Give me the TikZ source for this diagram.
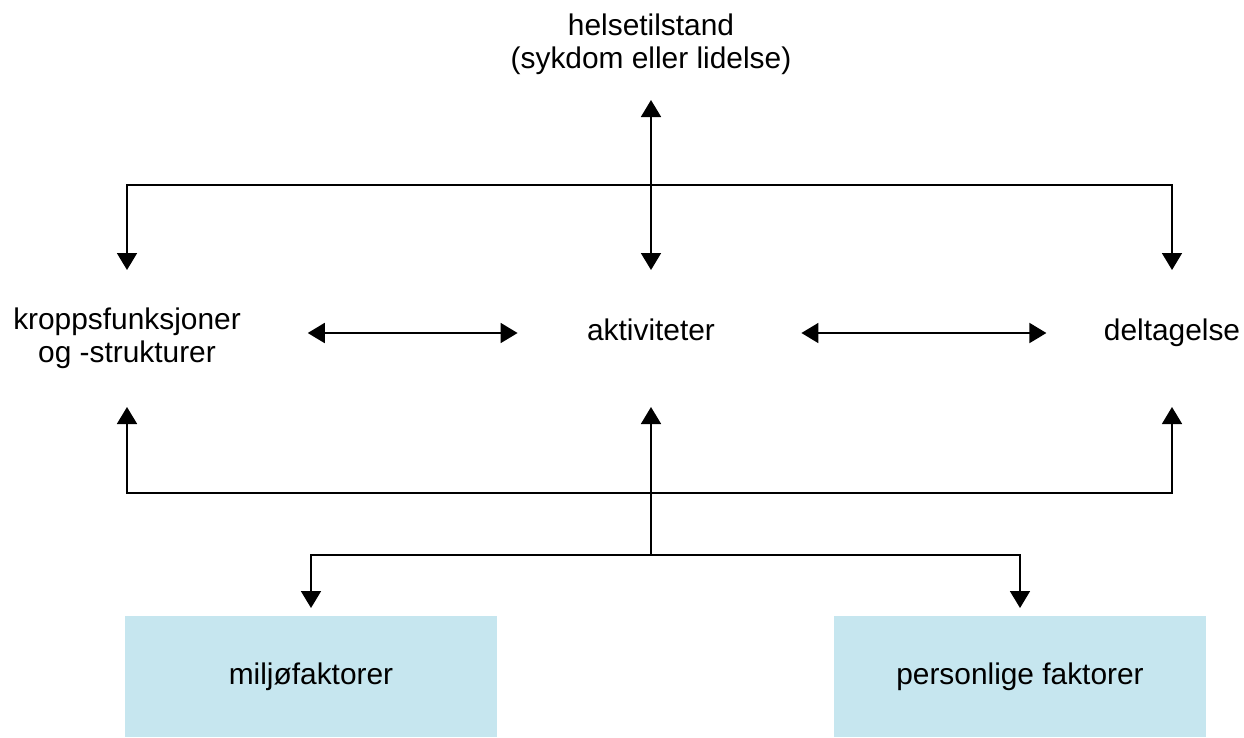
\documentclass[tikz,border=0pt]{standalone}
\usepackage{fontspec}
\setmainfont{Liberation Sans}
\usetikzlibrary{arrows.meta,positioning}
\definecolor{faktorblaa}{HTML}{C6E6EF}
\tikzset{
  spiss/.tip={Triangle[length=0.34cm,width=0.4cm]},
  pil/.style={line width=1pt, -spiss},
  dobbel/.style={line width=1pt, spiss-spiss},
  tekst/.style={font=\fontsize{17}{18.7}\selectfont, align=center, inner sep=0pt, outer sep=0pt},
  faktor/.style={tekst, fill=faktorblaa, minimum width=7.44cm, minimum height=2.42cm}
}
\begin{document}
\begin{tikzpicture}
\useasboundingbox (0,0) rectangle (24.88,-14.74);
\node[tekst, minimum height=2.24cm] (helse) at (13.02,-0.88) {helsetilstand\\(sykdom eller lidelse)};
\node[tekst, minimum height=2.74cm] (kropp) at (2.54,-6.77) {kroppsfunksjoner\\og -strukturer};
\node[tekst, anchor=base, text height=1.4cm, text depth=1.34cm] (akt) at (13.02,-6.8) {aktiviteter};
\node[tekst, anchor=base, text height=1.4cm, text depth=1.34cm] (delt) at (23.44,-6.8) {deltagelse};
\node[faktor] (miljo) at (6.22,-13.53) {miljøfaktorer};
\node[faktor] (person) at (20.4,-13.53) {personlige faktorer};
\coordinate (topp) at (13.02,-3.7);
\coordinate (bunn) at (13.02,-9.86);
\coordinate (nede) at (13.02,-11.1);
\draw[dobbel] (helse) -- (akt);
\draw[pil] (topp) -| (kropp);
\draw[pil] (topp) -| (delt);
\draw[dobbel, shorten <=1.34cm, shorten >=1.39cm] ([yshift=0.11cm]kropp.east) -- ([yshift=0.11cm]akt.west);
\draw[dobbel, shorten <=1.73cm, shorten >=1.15cm] ([yshift=0.11cm]akt.east) -- ([yshift=0.11cm]delt.west);
\draw[pil] (bunn) -| (kropp);
\draw[pil] (bunn) -| (delt);
\draw[pil] (nede) -- (akt);
\draw[pil, shorten >=0.16cm] (nede) -| (miljo);
\draw[pil, shorten >=0.16cm] (nede) -| (person);
\end{tikzpicture}
\end{document}
